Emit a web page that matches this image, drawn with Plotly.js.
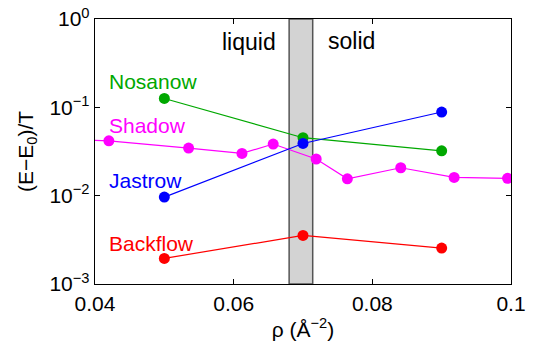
<!DOCTYPE html>
<html>
<head>
<meta charset="utf-8">
<script src="https://cdn.plot.ly/plotly-3.0.1.min.js"></script>
<style>html,body{margin:0;padding:0;background:#fff;}#chart{width:537px;height:350px;}</style>
</head>
<body>
<div id="chart"></div>
<script>
// Data
const rhoThree = [0.05, 0.07, 0.09];
const nosanow = [0.126, 0.0453, 0.0322];
const jastrow = [0.00964, 0.0390, 0.0885];
const backflow = [0.00195, 0.00355, 0.00255];
const shadowRho = [0.036, 0.0420, 0.0535, 0.0612, 0.0657, 0.0719, 0.0764, 0.0841, 0.0918, 0.0995];
const shadow = [0.0435, 0.0418, 0.0346, 0.0301, 0.0384, 0.0260, 0.0155, 0.0207, 0.0161, 0.0157];
const transition = [0.0680, 0.0714];
const yTickVals = [0.001, 0.01, 0.1, 1];
const yTickText = ['10<sup>−3</sup>', '10<sup>−2</sup>', '10<sup>−1</sup>', '10<sup>0</sup>'];
const xTickVals = [0.04, 0.06, 0.08, 0.1];
const xTickText = ['0.04', '0.06', '0.08', '0.1'];

const font = 'Liberation Sans, Arial, Helvetica, sans-serif';
const colors = {nosanow: '#00a800', shadow: '#ff00ff', jastrow: '#0000ff', backflow: '#ff0000'};

function tr(x, y, c) {
  return {x: x, y: y, type: 'scatter', mode: 'lines+markers',
    line: {color: c, width: 1.2}, marker: {color: c, size: 11}, showlegend: false, hoverinfo: 'skip'};
}

const data = [
  tr(rhoThree, nosanow, colors.nosanow),
  tr(shadowRho, shadow, colors.shadow),
  tr(rhoThree, jastrow, colors.jastrow),
  tr(rhoThree, backflow, colors.backflow)
];

function lab(text, x, ylog, c, size) {
  return {text: text, x: x, y: ylog, xref: 'x', yref: 'y', showarrow: false,
    xanchor: 'left', yanchor: 'middle', font: {family: font, size: size, color: c}};
}

const layout = {
  width: 537, height: 350,
  margin: {l: 95, r: 26, t: 19, b: 66},
  paper_bgcolor: '#fff', plot_bgcolor: '#fff',
  font: {family: font, color: '#000'},
  xaxis: {range: [0.04, 0.1], tickvals: xTickVals, ticktext: xTickText,
    ticks: 'inside', ticklen: 5, tickwidth: 1, tickcolor: '#000',
    showline: true, linecolor: '#000', linewidth: 1.3, mirror: 'ticks',
    showgrid: false, zeroline: false, tickfont: {size: 21, family: font},
    title: {text: 'ρ (Å<sup>−2</sup>)', font: {size: 21, family: font}, standoff: 8}},
  yaxis: {type: 'log', range: [-3, 0], tickvals: yTickVals, ticktext: yTickText,
    ticks: 'inside', ticklen: 5, tickwidth: 1, tickcolor: '#000',
    showline: true, linecolor: '#000', linewidth: 1.3, mirror: 'ticks',
    showgrid: false, zeroline: false, tickfont: {size: 21, family: font},
    title: {text: '(E−E<sub>0</sub>)/T', font: {size: 21, family: font}, standoff: 10}},
  shapes: [{type: 'rect', xref: 'x', yref: 'paper', x0: transition[0], x1: transition[1], y0: 0, y1: 1,
    fillcolor: '#d3d3d3', line: {color: '#555', width: 1.5}, layer: 'below'}],
  annotations: [
    lab('Nosanow', 0.0418, -0.713, colors.nosanow, 21),
    lab('Shadow', 0.0418, -1.200, colors.shadow, 21),
    lab('Jastrow', 0.0418, -1.823, colors.jastrow, 21),
    lab('Backflow', 0.0418, -2.537, colors.backflow, 21),
    lab('liquid', 0.0580, -0.26, '#000', 23),
    lab('solid', 0.0733, -0.25, '#000', 23)
  ]
};

Plotly.newPlot('chart', data, layout, {displayModeBar: false, staticPlot: true});
</script>
</body>
</html>
